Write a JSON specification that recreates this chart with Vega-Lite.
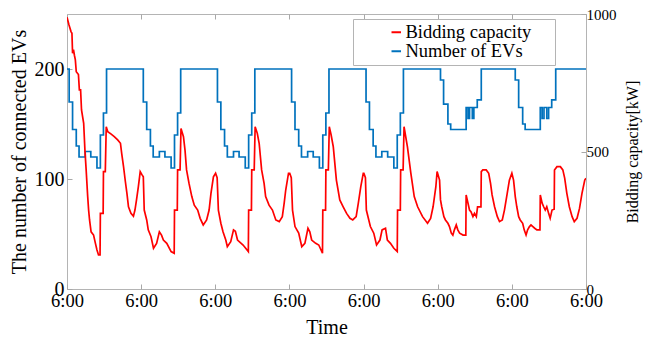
{
  "$schema": "https://vega.github.io/schema/vega-lite/v6.json",
  "width": 519,
  "height": 275,
  "autosize": "none",
  "padding": {"left": 67, "top": 14, "right": 65, "bottom": 50},
  "background": "white",
  "config": {
    "view": {"stroke": "#b4b4b4", "strokeWidth": 1},
    "font": "Liberation Serif",
    "axis": {"labelFont": "Liberation Serif", "titleFont": "Liberation Serif", "labelColor": "black", "titleColor": "black", "titleFontWeight": "normal", "grid": false, "domain": false, "tickColor": "#a8a8a8", "labelFlush": false, "labelOverlap": false},
    "legend": {"labelFont": "Liberation Serif", "titleFont": "Liberation Serif"}
  },
  "datasets": {
    "evs": [
      {"t":0,"v":200},{"t":0.7,"v":170},{"t":1.8,"v":145},{"t":3.0,"v":130},{"t":3.9,"v":120},{"t":5.9,"v":125},{"t":7.7,"v":120},{"t":9.7,"v":110},{"t":10.8,"v":140},{"t":11.8,"v":160},{"t":12.8,"v":200},
      {"t":24.7,"v":170},{"t":25.8,"v":145},{"t":27.0,"v":130},{"t":27.9,"v":120},{"t":29.9,"v":125},{"t":31.7,"v":120},{"t":33.7,"v":110},{"t":34.8,"v":140},{"t":35.8,"v":160},{"t":36.8,"v":200},
      {"t":48.7,"v":170},{"t":49.8,"v":145},{"t":51.0,"v":130},{"t":51.9,"v":120},{"t":53.9,"v":125},{"t":55.7,"v":120},{"t":57.7,"v":110},{"t":58.8,"v":140},{"t":59.8,"v":160},{"t":60.8,"v":200},
      {"t":72.7,"v":170},{"t":73.8,"v":145},{"t":75.0,"v":130},{"t":75.9,"v":120},{"t":77.9,"v":125},{"t":79.7,"v":120},{"t":81.7,"v":110},{"t":82.8,"v":140},{"t":83.8,"v":160},{"t":84.8,"v":200},
      {"t":96.8,"v":170},{"t":97.9,"v":145},{"t":99.1,"v":130},{"t":100.0,"v":120},{"t":101.9,"v":125},{"t":103.8,"v":120},{"t":105.8,"v":110},{"t":106.9,"v":140},{"t":107.9,"v":160},{"t":108.9,"v":200},
      {"t":120.9,"v":190},{"t":121.9,"v":168},{"t":123.3,"v":150},{"t":124.2,"v":145},{"t":129.2,"v":165},{"t":129.8,"v":155},{"t":130.3,"v":165},{"t":131.2,"v":155},{"t":131.7,"v":165},{"t":132.8,"v":172},{"t":134.1,"v":200},
      {"t":145.1,"v":190},{"t":146.2,"v":165},{"t":147.5,"v":150},{"t":148.3,"v":145},{"t":153.2,"v":165},{"t":153.8,"v":155},{"t":154.4,"v":165},{"t":155.3,"v":155},{"t":155.9,"v":165},{"t":156.9,"v":172},{"t":158.2,"v":200},{"t":168,"v":200}
    ],
    "bid": [
      {"t":0,"v":988},{"t":0.65,"v":960},{"t":1.3,"v":936},{"t":1.6,"v":930},{"t":1.8,"v":857},{"t":2.1,"v":870},{"t":2.4,"v":850},{"t":2.7,"v":833},{"t":3.0,"v":790},{"t":3.7,"v":780},{"t":4.0,"v":724},{"t":4.4,"v":724},{"t":4.7,"v":651},{"t":5.4,"v":602},{"t":5.8,"v":505},{"t":6.2,"v":433},{"t":6.7,"v":336},{"t":7.0,"v":287},{"t":7.3,"v":251},{"t":7.8,"v":208},{"t":8.6,"v":196},{"t":9.2,"v":166},{"t":9.7,"v":142},{"t":10.2,"v":124},{"t":10.7,"v":124},{"t":10.8,"v":275},{"t":11.7,"v":275},{"t":11.8,"v":427},{"t":12.4,"v":427},{"t":12.7,"v":590},{"t":13.2,"v":572},{"t":14.3,"v":563},{"t":15.3,"v":554},{"t":16.4,"v":542},{"t":17.3,"v":530},{"t":17.7,"v":493},{"t":18.3,"v":445},{"t":18.9,"v":390},{"t":19.4,"v":348},{"t":19.9,"v":299},{"t":20.7,"v":275},{"t":21.5,"v":265},{"t":22.0,"v":287},{"t":22.5,"v":324},{"t":23.1,"v":372},{"t":23.7,"v":427},{"t":24.3,"v":415},{"t":24.7,"v":408},
      {"t":25.0,"v":287},{"t":25.8,"v":251},{"t":26.3,"v":215},{"t":27.2,"v":190},{"t":28.0,"v":148},{"t":29.0,"v":166},{"t":29.9,"v":208},{"t":30.6,"v":196},{"t":31.2,"v":178},{"t":32.3,"v":166},{"t":33.7,"v":136},{"t":34.7,"v":130},{"t":34.8,"v":287},{"t":35.7,"v":287},{"t":35.8,"v":433},{"t":36.6,"v":433},{"t":36.9,"v":584},{"t":37.7,"v":554},{"t":38.2,"v":505},{"t":38.7,"v":433},{"t":39.5,"v":384},{"t":40.4,"v":336},{"t":41.2,"v":305},{"t":42.3,"v":287},{"t":43.1,"v":257},{"t":44.1,"v":233},{"t":45.2,"v":251},{"t":46.0,"v":287},{"t":46.6,"v":348},{"t":47.4,"v":408},{"t":48.1,"v":421},{"t":48.6,"v":405},
      {"t":49.0,"v":287},{"t":49.8,"v":239},{"t":50.5,"v":208},{"t":51.4,"v":178},{"t":51.9,"v":154},{"t":53.0,"v":172},{"t":53.9,"v":215},{"t":54.5,"v":210},{"t":55.2,"v":178},{"t":57.0,"v":160},{"t":58.7,"v":136},{"t":58.8,"v":287},{"t":59.7,"v":287},{"t":59.8,"v":433},{"t":60.6,"v":433},{"t":60.9,"v":590},{"t":61.6,"v":566},{"t":62.2,"v":530},{"t":63.0,"v":433},{"t":63.8,"v":384},{"t":64.3,"v":336},{"t":65.4,"v":305},{"t":66.5,"v":287},{"t":67.6,"v":251},{"t":68.7,"v":245},{"t":69.7,"v":263},{"t":70.3,"v":312},{"t":70.8,"v":360},{"t":71.7,"v":421},{"t":72.1,"v":421},{"t":72.6,"v":405},
      {"t":73.0,"v":287},{"t":73.8,"v":227},{"t":75.0,"v":203},{"t":76.0,"v":154},{"t":77.0,"v":166},{"t":78.0,"v":221},{"t":78.6,"v":208},{"t":79.2,"v":178},{"t":80.5,"v":166},{"t":81.5,"v":160},{"t":82.7,"v":130},{"t":82.8,"v":287},{"t":83.7,"v":287},{"t":83.8,"v":433},{"t":84.6,"v":433},{"t":84.9,"v":590},{"t":85.5,"v":560},{"t":86.2,"v":517},{"t":87.2,"v":396},{"t":88.3,"v":324},{"t":89.4,"v":299},{"t":90.5,"v":275},{"t":91.6,"v":257},{"t":92.5,"v":251},{"t":93.6,"v":263},{"t":94.3,"v":312},{"t":95.1,"v":372},{"t":95.9,"v":421},{"t":96.1,"v":421},
      {"t":96.6,"v":405},{"t":96.9,"v":287},{"t":98.2,"v":227},{"t":99.3,"v":203},{"t":100.2,"v":160},{"t":101.3,"v":178},{"t":102.0,"v":215},{"t":103.1,"v":221},{"t":103.7,"v":178},{"t":104.7,"v":166},{"t":105.8,"v":148},{"t":106.9,"v":136},{"t":107.0,"v":287},{"t":107.9,"v":287},{"t":108.0,"v":433},{"t":108.8,"v":433},{"t":109.1,"v":590},{"t":110.2,"v":517},{"t":111.3,"v":421},{"t":112.4,"v":336},{"t":113.5,"v":299},{"t":115.1,"v":263},{"t":116.7,"v":239},{"t":117.7,"v":257},{"t":118.5,"v":299},{"t":119.4,"v":372},{"t":119.8,"v":427},
      {"t":120.6,"v":396},{"t":120.9,"v":324},{"t":121.3,"v":299},{"t":122.0,"v":263},{"t":122.5,"v":251},{"t":123.3,"v":239},{"t":123.8,"v":227},{"t":124.4,"v":203},{"t":124.9,"v":196},{"t":125.4,"v":215},{"t":126.0,"v":233},{"t":126.5,"v":215},{"t":127.1,"v":203},{"t":128.2,"v":196},{"t":129.1,"v":196},{"t":129.2,"v":342},{"t":129.8,"v":312},{"t":130.3,"v":287},{"t":130.8,"v":280},{"t":131.4,"v":263},{"t":131.9,"v":275},{"t":132.5,"v":263},{"t":132.9,"v":299},{"t":134.0,"v":299},{"t":134.1,"v":427},{"t":134.6,"v":433},{"t":135.7,"v":433},{"t":136.5,"v":421},{"t":137.1,"v":384},{"t":137.6,"v":342},{"t":138.4,"v":299},{"t":139.3,"v":263},{"t":140.0,"v":245},{"t":140.9,"v":251},{"t":141.6,"v":287},{"t":142.5,"v":348},{"t":143.2,"v":396},{"t":144.0,"v":421},
      {"t":144.55,"v":396},{"t":145.1,"v":336},{"t":145.6,"v":299},{"t":146.2,"v":263},{"t":146.7,"v":251},{"t":147.5,"v":239},{"t":148.0,"v":215},{"t":148.6,"v":196},{"t":149.1,"v":215},{"t":149.7,"v":227},{"t":150.2,"v":233},{"t":150.8,"v":227},{"t":151.4,"v":221},{"t":152.1,"v":215},{"t":153.1,"v":215},{"t":153.2,"v":342},{"t":153.8,"v":312},{"t":154.3,"v":299},{"t":154.8,"v":287},{"t":155.3,"v":299},{"t":155.9,"v":275},{"t":156.4,"v":257},{"t":157.0,"v":287},{"t":157.7,"v":290},{"t":157.8,"v":433},{"t":158.6,"v":445},{"t":159.7,"v":445},{"t":160.5,"v":433},{"t":161.1,"v":403},{"t":161.8,"v":348},{"t":162.6,"v":299},{"t":163.5,"v":263},{"t":164.2,"v":245},{"t":165.1,"v":257},{"t":165.9,"v":293},{"t":166.7,"v":348},{"t":167.6,"v":396},{"t":168.0,"v":403}
    ]
  },
  "layer": [
    {
      "data": {"name": "evs"},
      "mark": {"type": "line", "interpolate": "step-after", "strokeWidth": 1.7, "clip": true},
      "encoding": {
        "x": {"field": "t", "type": "quantitative", "scale": {"domain": [0, 168], "nice": false, "zero": false},
          "axis": {"orient": "bottom", "values": [0,24,48,72,96,120,144,168], "labelExpr": "'6:00'", "labelFont": "Liberation Serif", "labelFontSize": 18.5, "labelPadding": 7, "tickSize": -5, "title": "Time", "titleFont": "Liberation Serif", "titleFontSize": 20, "titlePadding": 8}},
        "y": {"field": "v", "type": "quantitative", "scale": {"domain": [0, 250], "nice": false},
          "axis": {"orient": "left", "values": [0,100,200], "labelFont": "Liberation Serif", "labelFontSize": 20, "labelPadding": 8, "tickSize": -5, "title": "The number of connected EVs", "titleFont": "Liberation Serif", "titleFontSize": 20, "titlePadding": 5}},
        "color": {"datum": "Number of EVs", "type": "nominal",
          "scale": {"domain": ["Bidding capacity", "Number of EVs"], "range": ["#ff0000", "#0072bd"]},
          "legend": {"orient": "none", "legendX": 286, "legendY": 5, "title": " ", "titleOrient": "right", "titlePadding": 20, "titleFont": "Liberation Serif", "titleFontSize": 12, "labelFont": "Liberation Serif", "labelFontSize": 18.5, "symbolType": "stroke", "symbolSize": 90, "symbolStrokeWidth": 2, "strokeColor": "#b4b4b4", "fillColor": "white", "padding": 4, "rowPadding": 0, "labelOffset": 0, "symbolOffset": 30}}
      }
    },
    {
      "data": {"name": "bid"},
      "mark": {"type": "line", "strokeWidth": 1.7, "clip": true},
      "encoding": {
        "x": {"field": "t", "type": "quantitative", "scale": {"domain": [0, 168], "nice": false, "zero": false},
          "axis": {"orient": "top", "values": [0,24,48,72,96,120,144,168], "labels": false, "tickSize": -5, "title": null}},
        "y": {"field": "v", "type": "quantitative", "scale": {"domain": [0, 1000], "nice": false},
          "axis": {"orient": "right", "values": [0,500,1000], "format": "d", "labelFont": "Liberation Serif", "labelFontSize": 15, "labelPadding": 5, "tickSize": -5, "title": "Bidding capacity[kW]", "titleFont": "Liberation Serif", "titleFontSize": 16, "titleAngle": 270, "titleBaseline": "top", "titlePadding": 8}},
        "color": {"datum": "Bidding capacity", "type": "nominal"}
      }
    }
  ],
  "resolve": {"scale": {"y": "independent"}, "axis": {"x": "independent"}}
}
